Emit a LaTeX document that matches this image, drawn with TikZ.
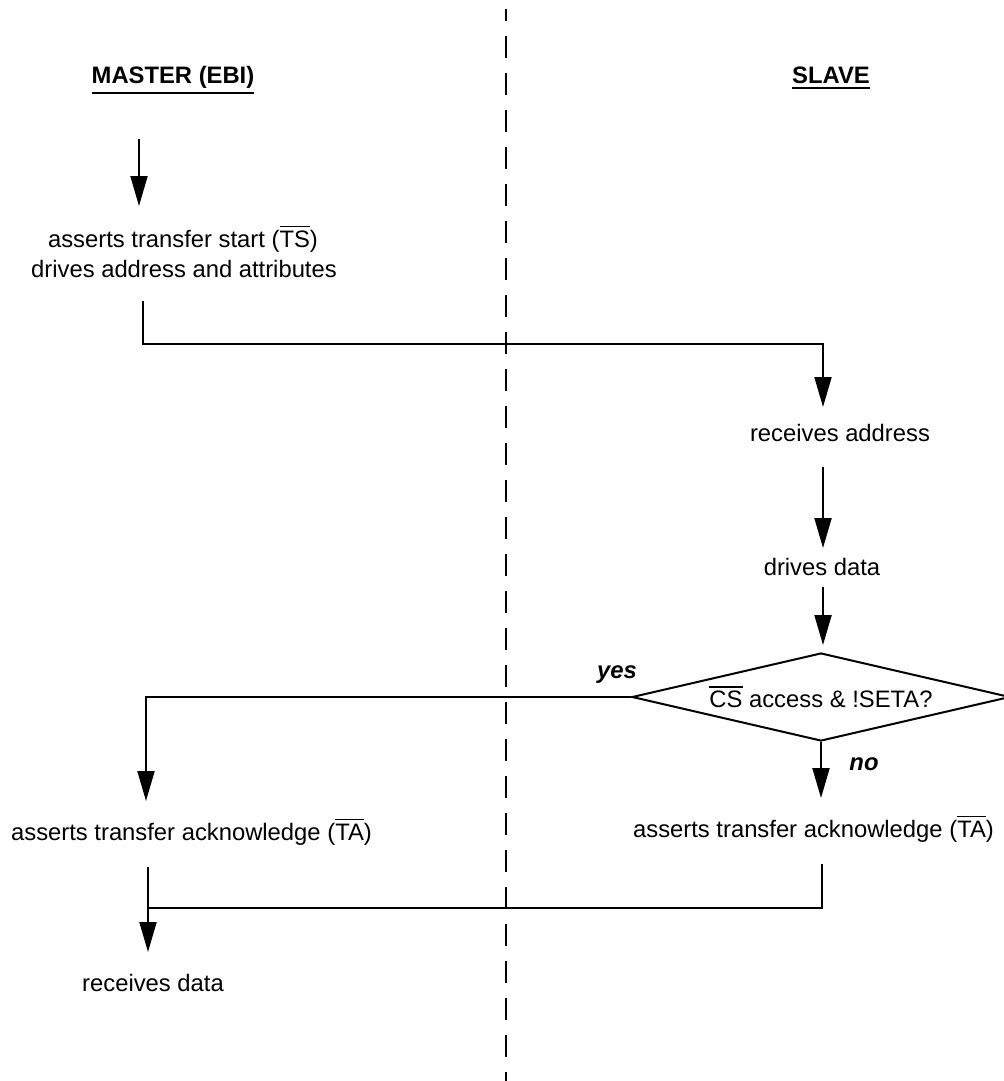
\documentclass[tikz,border=0pt]{standalone}
\usepackage{fontspec}
\setmainfont{Liberation Sans}
\usetikzlibrary{arrows.meta,shapes.geometric}

% active-low signal names: a bar over the letters
\newcommand\barred[1]{\leavevmode\vbox{\hrule height 0.75pt\kern 1.6pt\hbox{#1}}}
% underlined column headings
\newcommand\uline[1]{\leavevmode\vtop{\hbox{#1}\kern 1.4pt\hrule height 0.9pt}}

\tikzset{
  txt/.style={anchor=base, inner sep=0pt, font=\fontsize{11.9}{14}\selectfont},
  heading/.style={txt, font=\fontsize{11.9}{14}\selectfont\bfseries},
  tag/.style={txt, font=\fontsize{11.9}{14}\selectfont\bfseries\itshape},
  decision/.style={diamond, draw, line width=1pt, inner sep=0pt,
    minimum width=189pt, minimum height=44pt, aspect=4.3,
    font=\fontsize{11.9}{14}\selectfont},
  flow/.style={line width=1pt},
  arr/.style={flow, -{Triangle[length=15pt,width=8.5pt]}},
  divider/.style={line width=1pt, dash pattern=on 10.85pt off 7.65pt, dash phase=5pt}
}

\begin{document}
\begin{tikzpicture}[x=0.5pt, y=-0.5pt]
\useasboundingbox (0,0) rectangle (1003,1081);

% boundary between master and slave
\coordinate (divtop) at (506,9);
\coordinate (divbot) at (506,1081);
\draw[divider] (divtop) -- (divbot);

% column headings
\node[heading] (master) at (173,84) {\uline{MASTER (EBI)}};
\node[heading] (slave) at (831,84) {\uline{SLAVE}};

% steps
\node[txt] (ts) at (183,247) {asserts transfer start (\barred{TS})};
\node[txt] (addr) at (184,277) {drives address and attributes};
\node[txt] (recaddr) at (840,441) {receives address};
\node[txt] (drv) at (822,575) {drives data};
\node[decision] (dec) at (821,697) {\barred{CS} access \& !SETA?};
\node[tag] (yes) at (617,678) {yes};
\node[tag] (no) at (864,770) {no};
\node[txt] (ackm) at (191.5,840) {asserts transfer acknowledge (\barred{TA})};
\node[txt] (acks) at (813.5,837) {asserts transfer acknowledge (\barred{TA})};
\node[txt] (rdata) at (153,991) {receives data};

% connector end points
\coordinate (a1s) at (139,139);
\coordinate (a1e) at (139,206);
\coordinate (c1s) at (143,301);
\coordinate (c1k) at (143,344);
\coordinate (c1e) at (823,407);
\coordinate (a2s) at (823,467);
\coordinate (a2e) at (823,548);
\coordinate (a3s) at (823,587);
\coordinate (a3e) at (823,645);
\coordinate (yese) at (146,801);
\coordinate (noe) at (821,798);
\coordinate (b1s) at (148,867);
\coordinate (b1e) at (148,952);
\coordinate (b2s) at (822,864);
\coordinate (b2e) at (148,908);

% flow
\draw[arr] (a1s) -- (a1e);
\draw[arr] (c1s) -- (c1k) -| (c1e);
\draw[arr] (a2s) -- (a2e);
\draw[arr] (a3s) -- (a3e);
\draw[arr] (dec.west) -| (yese);
\draw[arr] (dec.south) -- (noe);
\draw[arr] (b1s) -- (b1e);
\draw[flow] (b2s) |- (b2e);
\end{tikzpicture}
\end{document}
